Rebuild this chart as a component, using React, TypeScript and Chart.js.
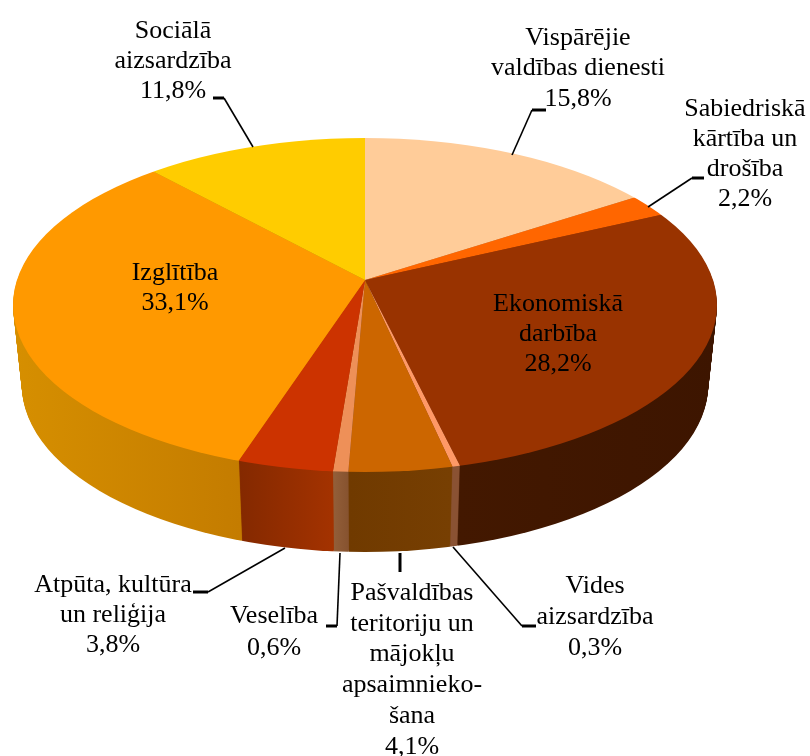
import React, { useEffect, useRef } from "react";
import { Chart, registerables } from "chart.js";

Chart.register(...registerables);

const categories = [
  "Vispārējie valdības dienesti",
  "Sabiedriskā kārtība un drošība",
  "Ekonomiskā darbība",
  "Vides aizsardzība",
  "Pašvaldības teritoriju un mājokļu apsaimniekošana",
  "Veselība",
  "Atpūta, kultūra un reliģija",
  "Izglītība",
  "Sociālā aizsardzība",
];
const shares = [15.8, 2.2, 28.2, 0.3, 4.1, 0.6, 3.8, 33.1, 11.8];
const topColors = ["#FFCC99", "#FF6600", "#993300", "#FF9966", "#CC6600", "#EE9058", "#CC3300", "#FF9900", "#FFCC00"];
const sideColors = [
  ["#B08D6A", "#B08D6A"],
  ["#A84300", "#A84300"],
  ["#431800", "#3D1500"],
  ["#8A5233", "#8A5233"],
  ["#703A00", "#773F02"],
  ["#94603A", "#85512E"],
  ["#842900", "#A33200"],
  ["#D68F00", "#C47C00"],
  ["#B08600", "#B08600"],
];
const sideSpans = [
  [365, 640],
  [635, 665],
  [458, 717],
  [450, 458],
  [350, 450],
  [332, 350],
  [240, 332],
  [13, 240],
  [150, 365],
];

const labelLines = [
  ["Vispārējie", "valdības dienesti", "15,8%"],
  ["Sabiedriskā", "kārtība un", "drošība", "2,2%"],
  ["Ekonomiskā", "darbība", "28,2%"],
  ["Vides", "aizsardzība", "0,3%"],
  ["Pašvaldības", "teritoriju un", "mājokļu", "apsaimnieko-", "šana", "4,1%"],
  ["Veselība", "0,6%"],
  ["Atpūta, kultūra", "un reliģija", "3,8%"],
  ["Izglītība", "33,1%"],
  ["Sociālā", "aizsardzība", "11,8%"],
];
const labelCentres = [
  [578, 38, 30.5],
  [745, 109, 30],
  [558, 304, 30],
  [595, 586, 31],
  [412, 593, 30.8],
  [274, 616, 32],
  [113, 585, 30],
  [175, 273, 30],
  [173, 31, 30],
];
const leaders = [
  [[512, 155], [532, 110]],
  [[648, 207], [692, 178]],
  [[453, 547], [522, 626]],
  [],
  [[285, 548], [208, 592]],
  [[340, 553], [337, 626]],
  [[224, 98], [253, 147]],
];
const stubs = [
  [[532, 110], [546, 110]],
  [[692, 178], [704, 178]],
  [[522, 626], [536, 626]],
  [[400, 553], [400, 572]],
  [[208, 592], [193, 592]],
  [[337, 626], [326, 626]],
  [[224, 98], [213, 98]],
];

const pie = { cx: 365, apexY: 280, rimY: 305, rx: 352, ry: 167, squash: 0.47, reach: 460, depth: 80, taper: 0.025 };
const FONT = '26px "Liberation Serif", "Times New Roman", serif';

function applyPie(ctx: any, chart: any, arc: any, drop: number) {
  const shrink = 1 - (pie.taper * drop) / pie.depth;
  ctx.beginPath();
  ctx.ellipse(pie.cx, pie.rimY + drop, pie.rx * shrink, pie.ry, 0, 0, Math.PI * 2);
  ctx.clip();
  const k = pie.reach / arc.outerRadius;
  ctx.translate(pie.cx, pie.apexY + drop);
  ctx.scale(k * shrink, k * pie.squash);
  ctx.translate(-arc.x, -arc.y);
  return k * shrink;
}

const pie3d = {
  id: "pie3d",
  beforeDatasetDraw(chart: any, args: any) {
    const ctx = chart.ctx;
    const arcs = args.meta.data;
    for (let drop = pie.depth; drop >= 1; drop--) {
      ctx.save();
      const kx = applyPie(ctx, chart, arcs[0], drop);
      arcs.forEach((arc: any, i: number) => {
        const toLocal = (x: number) => arc.x + (x - pie.cx) / kx;
        const g = ctx.createLinearGradient(toLocal(sideSpans[i][0]), 0, toLocal(sideSpans[i][1]), 0);
        g.addColorStop(0, sideColors[i][0]);
        g.addColorStop(1, sideColors[i][1]);
        const saved = arc.options;
        arc.options = Object.assign({}, saved, { backgroundColor: g });
        arc.draw(ctx);
        arc.options = saved;
      });
      ctx.restore();
    }
    ctx.save();
    applyPie(ctx, chart, arcs[0], 0);
  },
  afterDatasetDraw(chart: any) {
    chart.ctx.restore();
  },
  afterDraw(chart: any) {
    const ctx = chart.ctx;
    ctx.save();
    ctx.strokeStyle = "#000";
    ctx.lineCap = "butt";
    const stroke = (pts: number[][], w: number) => {
      if (!pts.length) return;
      ctx.lineWidth = w;
      ctx.beginPath();
      pts.forEach((p, i) => (i ? ctx.lineTo(p[0], p[1]) : ctx.moveTo(p[0], p[1])));
      ctx.stroke();
    };
    leaders.forEach((l) => stroke(l, 1.6));
    stubs.forEach((l) => stroke(l, 3));
    ctx.fillStyle = "#000";
    ctx.font = FONT;
    ctx.textAlign = "center";
    ctx.textBaseline = "middle";
    labelLines.forEach((lines, i) => {
      const [x, y, step] = labelCentres[i];
      lines.forEach((t, j) => ctx.fillText(t, x, y + j * step));
    });
    ctx.restore();
  },
};

export default function App() {
  const ref = useRef<HTMLCanvasElement | null>(null);
  useEffect(() => {
    document.body.style.margin = "0";
    document.body.style.background = "#fff";
    const chart = new Chart(ref.current as HTMLCanvasElement, {
      type: "pie",
      data: {
        labels: categories,
        datasets: [
          {
            data: shares,
            backgroundColor: topColors,
            borderWidth: 0,
            clip: false,
          } as any,
        ],
      },
      options: {
        responsive: false,
        animation: false,
        layout: { padding: 0 },
        plugins: { legend: { display: false }, tooltip: { enabled: false } },
      },
      plugins: [pie3d],
    });
    return () => chart.destroy();
  }, []);
  return (
    <div style={{ width: 810, height: 756 }}>
      <canvas ref={ref} width={810} height={756} style={{ display: "block" }} />
    </div>
  );
}
